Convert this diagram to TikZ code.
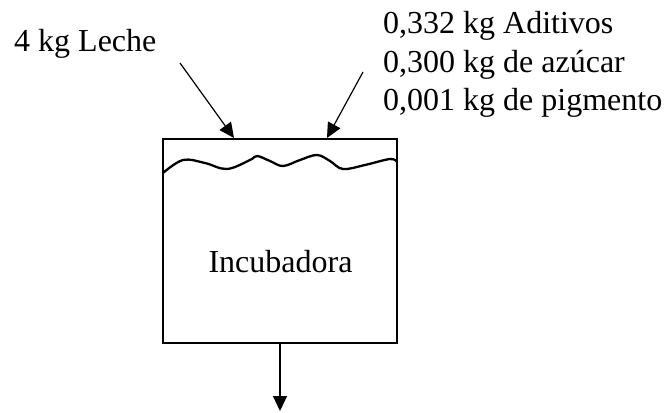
\documentclass[tikz,border=0pt]{standalone}
\usepackage{fontspec}
\setmainfont{Liberation Serif}
\usetikzlibrary{arrows.meta}
\begin{document}
\begin{tikzpicture}[x=1pt,y=-1pt,
  lbl/.style={anchor=base west,inner sep=0pt,font=\fontsize{32}{38}\selectfont},
  flow/.style={line width=1.2pt,-{Triangle[length=15pt,width=14pt]}},
  vessel/.style={draw,line width=2.6pt,minimum width=234pt,minimum height=204pt,inner sep=0pt}]
\useasboundingbox (0,0) rectangle (666,412);
\node[vessel] (inc) at (280,241) {};
\node[anchor=base,inner sep=0pt,font=\fontsize{32}{38}\selectfont] (name) at (280.5,272) {Incubadora};
\draw[line width=2.3pt] plot[smooth,tension=0.6] coordinates {(163,173) (183,160) (205,163) (227,169) (250,160) (257,156) (270,161) (283,166) (300,160) (317,155) (330,161) (343,169) (365,165) (390,159) (397,162)};
\node[lbl] (leche) at (14,52) {4 kg Leche};
\node[lbl] (t1) at (383,34) {0,332 kg Aditivos};
\node[lbl] (t2) at (383,72) {0,300 kg de azúcar};
\node[lbl] (t3) at (383,110) {0,001 kg de pigmento};
\coordinate (a0) at (180,63);
\coordinate (a1) at (234,138);
\coordinate (b0) at (363,72);
\coordinate (b1) at (327,138);
\coordinate (out) at (inc.south |- 0,411);
\draw[flow] (a0) -- (a1);
\draw[flow] (b0) -- (b1);
\draw[flow] (inc.south) -- (out);
\end{tikzpicture}
\end{document}
